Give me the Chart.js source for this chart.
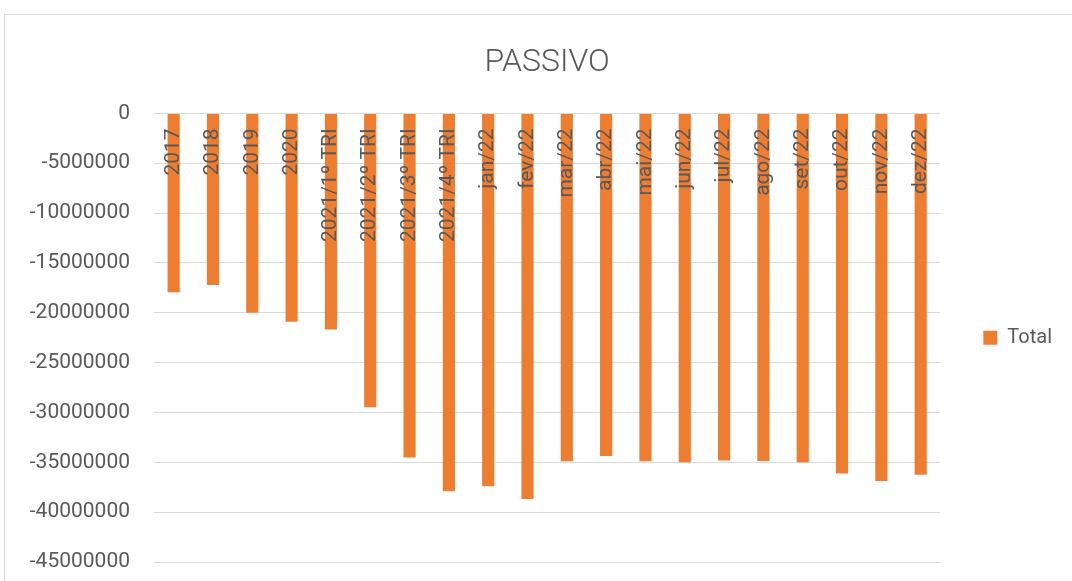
<!DOCTYPE html>
<html>
<head>
<meta charset="utf-8">
<script src="https://cdn.jsdelivr.net/npm/chart.js@4"></script>
<style>
  html, body { margin: 0; padding: 0; background: #fff; overflow: hidden; width: 1072px; height: 581px; }
  #frame { position: absolute; left: 4px; top: 14px; width: 2000px; height: 2000px; border: 1px solid #d9d9d9; box-sizing: border-box; }
  #c { position: absolute; left: 0; top: 0; }
</style>
</head>
<body>
<div id="frame"></div>
<canvas id="c" width="1072" height="581"></canvas>
<script>
const chartTitle = 'PASSIVO';
const seriesName = 'Total';
const categories = ['2017', '2018', '2019', '2020', '2021/1º TRI', '2021/2º TRI', '2021/3º TRI', '2021/4º TRI',
  'jan/22', 'fev/22', 'mar/22', 'abr/22', 'mai/22', 'jun/22', 'jul/22', 'ago/22', 'set/22', 'out/22', 'nov/22', 'dez/22'];
const totalValues = [-17950000, -17220000, -20000000, -20900000, -21670000, -29470000, -34520000, -37900000,
  -37400000, -38670000, -34890000, -34360000, -34890000, -34990000, -34820000, -34860000, -35000000, -36130000, -36870000, -36260000];
const yMin = -45000000;
const yMax = 0;
const yStep = 5000000;

const textColor = '#595959';
const barColor = '#ED7D31';
const gridColor = '#d9d9d9';

new Chart(document.getElementById('c'), {
  type: 'bar',
  data: {
    labels: categories,
    datasets: [{
      label: seriesName,
      data: totalValues,
      backgroundColor: barColor,
      borderWidth: 0,
      barPercentage: 0.31,
      categoryPercentage: 1.0
    }]
  },
  options: {
    responsive: false,
    devicePixelRatio: 1,
    animation: false,
    layout: { padding: { left: 0, right: 10, top: 0, bottom: 19 } },
    plugins: {
      title: {
        display: true,
        fullSize: false,
        text: chartTitle,
        color: textColor,
        font: { family: 'Roboto', size: 32, weight: '300' },
        padding: { top: 44, bottom: 31 }
      },
      legend: {
        display: true,
        position: 'right',
        fullSize: false,
        labels: {
          color: textColor,
          font: { family: 'Roboto', size: 20 },
          boxWidth: 14,
          boxHeight: 14,
          padding: 43
        }
      },
      tooltip: { enabled: false }
    },
    scales: {
      x: {
        position: { y: 0 },
        offset: true,
        grid: { display: false, drawTicks: false },
        border: { display: false },
        ticks: {
          autoSkip: false,
          minRotation: 90,
          maxRotation: 90,
          padding: 15,
          color: textColor,
          font: { family: 'Roboto', size: 21 },
          z: 1
        },
        afterFit: (scale) => { scale.height = 0; }
      },
      y: {
        min: yMin,
        max: yMax,
        grid: { color: gridColor, lineWidth: 1, drawTicks: true, tickLength: 24, tickColor: 'rgba(0,0,0,0)' },
        border: { display: false },
        ticks: {
          stepSize: yStep,
          padding: 0,
          color: textColor,
          font: { family: 'Roboto', size: 21 },
          callback: (v) => String(v)
        },
        afterFit: (scale) => { scale.width = 154; }
      }
    }
  }
});
</script>
</body>
</html>
